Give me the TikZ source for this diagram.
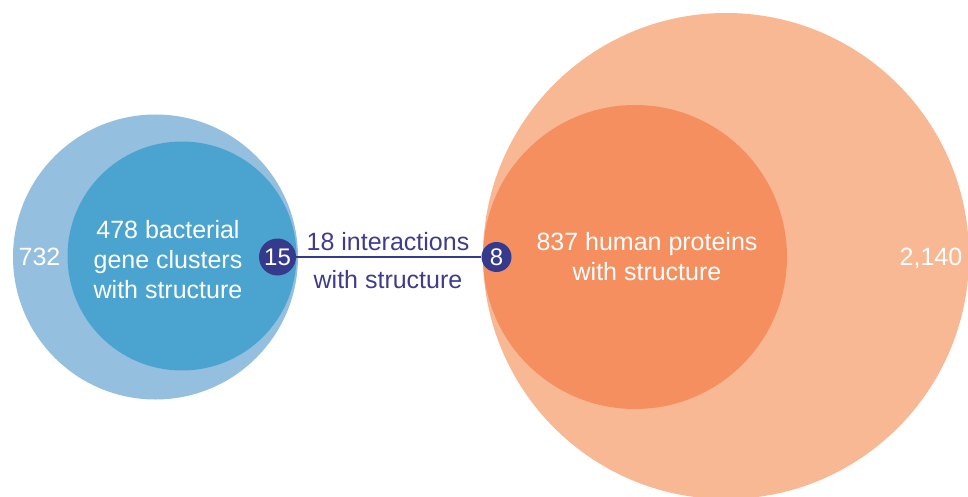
\documentclass[tikz,border=0pt]{standalone}
\usepackage{fontspec}
\setmainfont{Liberation Sans}
\definecolor{blueouter}{HTML}{94BFDF}
\definecolor{blueinner}{HTML}{4BA4CF}
\definecolor{orangeouter}{HTML}{F9B894}
\definecolor{orangeinner}{HTML}{F58F5F}
\definecolor{navy}{HTML}{363A8C}
\definecolor{labelpurple}{HTML}{3F3B8E}
\begin{document}
\begin{tikzpicture}[x=1pt,y=-1pt,
  bigtext/.style={text=white,font=\fontsize{25}{30}\selectfont,align=center,inner sep=0pt},
  linktext/.style={text=labelpurple,font=\fontsize{25}{30}\selectfont,inner sep=0pt},
  countdot/.style={circle,fill=navy,text=white,inner sep=0pt,font=\fontsize{24}{24}\selectfont}]
  \useasboundingbox (0,0) rectangle (968,497);
  \begin{scope}
    \clip (0,0) rectangle (968,497);
    % bacterial gene clusters
    \fill[blueouter] (155.5,257) circle[radius=142.5];
    \fill[blueinner] (182,256) circle[radius=114.5];
    % human proteins
    \fill[orangeouter] (726,256) circle[radius=243];
    \fill[orangeinner] (635,257) circle[radius=152];
  \end{scope}

  \node[bigtext] (bact) at (168,260) {478 bacterial\\gene clusters\\with structure};
  \node[bigtext] (bacttotal) at (39.5,257) {732};
  \node[bigtext] (hum) at (647,257) {837 human proteins\\with structure};
  \node[bigtext] (humtotal) at (931,258) {2,140};

  \node[countdot,minimum size=37pt] (b15) at (277.5,257) {15};
  \node[countdot,minimum size=30pt] (h8) at (496.5,257) {8};
  \draw[navy,line width=2pt] (b15.east) -- (h8.west);

  \node[linktext] (lab1) at (388,242) {18 interactions};
  \node[linktext] (lab2) at (388,280) {with structure};
\end{tikzpicture}
\end{document}
